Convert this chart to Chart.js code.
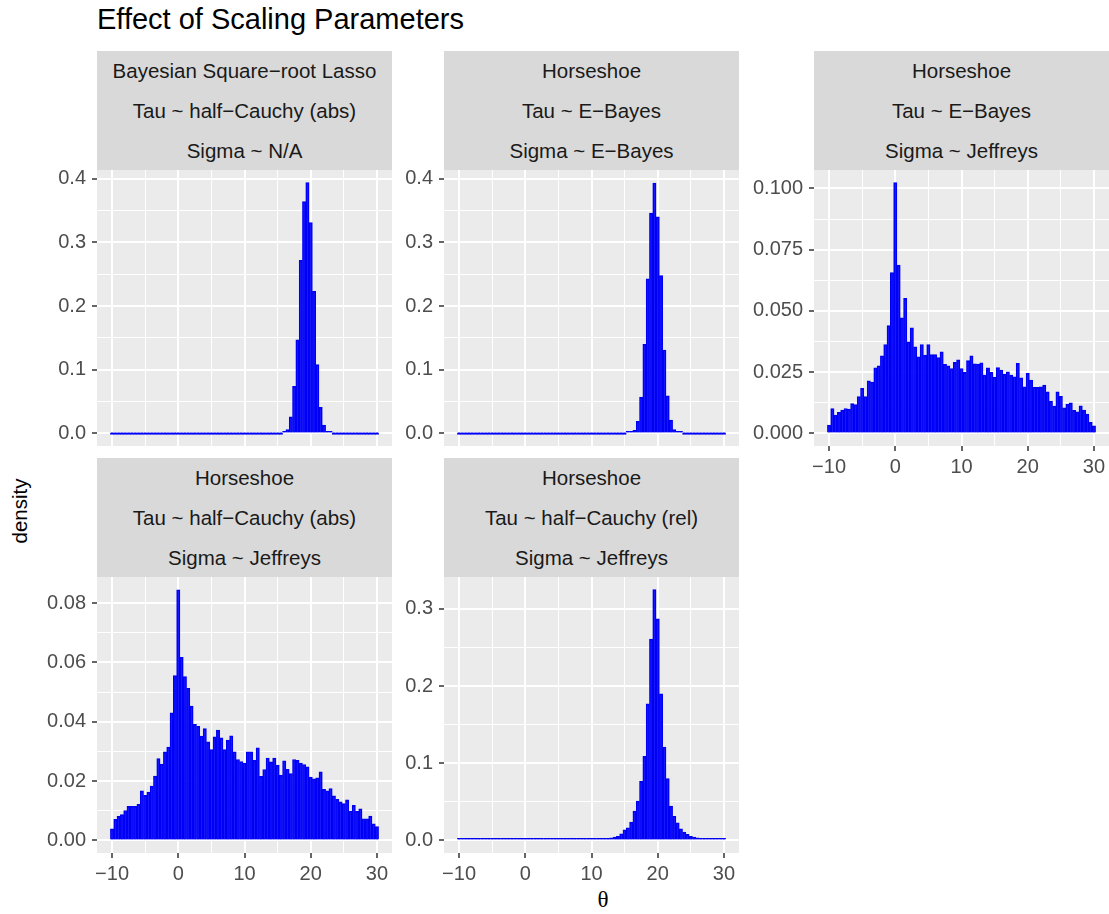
<!DOCTYPE html>
<html>
<head>
<meta charset="utf-8">
<title>Effect of Scaling Parameters</title>
<script src="https://cdn.jsdelivr.net/npm/chart.js@4/dist/chart.umd.min.js"></script>
<style>
  body { margin: 0; background: #fff; }
  #page { position: relative; width: 1109px; height: 914px; overflow: hidden;
          font-family: "Liberation Sans", Arial, sans-serif; }
  .panel { position: absolute; }
  .strip { position: absolute; background: #D9D9D9; color: #1A1A1A; font-size: 20.5px; text-align: center; }
  .strip div { height: 40px; line-height: 40px; white-space: nowrap; }
  #title { position: absolute; left: 97px; top: 5px; font-size: 29px; line-height: 29px; color: #000; white-space: nowrap; }
  #ylab { position: absolute; left: 20px; top: 511px; font-size: 20.5px; color: #000;
          transform: translate(-50%, -50%) rotate(-90deg); white-space: nowrap; }
  #xlab { position: absolute; left: 603px; top: 900px; font-size: 23px; color: #000;
          font-family: "Liberation Serif", "DejaVu Serif", serif; transform: translate(-50%, -50%); }
</style>
</head>
<body>
<div id="page">
  <div id="title">Effect of Scaling Parameters</div>
  <div id="ylab">density</div>
  <div id="xlab">θ</div>
</div>
<script>
'use strict';

// histogram bin centres (bin width 0.5)
const binCenters = [
  -10, -9.5, -9, -8.5, -8, -7.5, -7, -6.5, -6, -5.5,
  -5, -4.5, -4, -3.5, -3, -2.5, -2, -1.5, -1, -0.5,
  0, 0.5, 1, 1.5, 2, 2.5, 3, 3.5, 4, 4.5,
  5, 5.5, 6, 6.5, 7, 7.5, 8, 8.5, 9, 9.5,
  10, 10.5, 11, 11.5, 12, 12.5, 13, 13.5, 14, 14.5,
  15, 15.5, 16, 16.5, 17, 17.5, 18, 18.5, 19, 19.5,
  20, 20.5, 21, 21.5, 22, 22.5, 23, 23.5, 24, 24.5,
  25, 25.5, 26, 26.5, 27, 27.5, 28, 28.5, 29, 29.5,
  30
];

const xMajor = [-10, 0, 10, 20, 30];
const xMinor = [-5, 5, 15, 25];

const lassoDensity = [
  0, 0, 0, 0, 0, 0, 0, 0, 0, 0,
  0, 0, 0, 0, 0, 0, 0, 0, 0, 0,
  0, 0, 0, 0, 0, 0, 0, 0, 0, 0,
  0, 0, 0, 0, 0, 0, 0, 0, 0, 0,
  0, 0, 0, 0, 0, 0, 0, 0, 0, 0,
  0, 0, 0.002, 0.006, 0.026, 0.074, 0.147, 0.272, 0.364, 0.394,
  0.331, 0.223, 0.108, 0.041, 0.013, 0.003, 0.001, 0, 0, 0,
  0, 0, 0, 0, 0, 0, 0, 0, 0, 0,
  0
];

const hsEbEbDensity = [
  0, 0, 0, 0, 0, 0, 0, 0, 0, 0,
  0, 0, 0, 0, 0, 0, 0, 0, 0, 0,
  0, 0, 0, 0, 0, 0, 0, 0, 0, 0,
  0, 0, 0, 0, 0, 0, 0, 0, 0, 0,
  0, 0, 0, 0, 0, 0, 0, 0, 0, 0,
  0, 0.0005, 0.0015, 0.005, 0.019, 0.057, 0.140, 0.243, 0.346, 0.393,
  0.340, 0.248, 0.131, 0.059, 0.021, 0.006, 0.0015, 0.0005, 0, 0,
  0, 0, 0, 0, 0, 0, 0, 0, 0, 0,
  0
];

const hsEbJeffDensity = [
  0.0034, 0.0102, 0.0075, 0.0086, 0.0095, 0.0102, 0.0099, 0.0122, 0.0118, 0.0150,
  0.0184, 0.0150, 0.0215, 0.0210, 0.0268, 0.0276, 0.0317, 0.0363, 0.0440, 0.0657,
  0.1024, 0.0687, 0.0472, 0.0551, 0.0374, 0.0431, 0.0354, 0.0313, 0.0363, 0.0320,
  0.0363, 0.0322, 0.0322, 0.0310, 0.0333, 0.0282, 0.0276, 0.0265, 0.0290, 0.0300,
  0.0265, 0.0249, 0.0297, 0.0317, 0.0284, 0.0283, 0.0288, 0.0238, 0.0268, 0.0249,
  0.0230, 0.0269, 0.0259, 0.0241, 0.0252, 0.0238, 0.0231, 0.0286, 0.0227, 0.0190,
  0.0245, 0.0218, 0.0188, 0.0188, 0.0190, 0.0197, 0.0170, 0.0132, 0.0112, 0.0170,
  0.0152, 0.0105, 0.0120, 0.0125, 0.0094, 0.0088, 0.0113, 0.0095, 0.0079, 0.0045,
  0.0031
];

const hsHcAbsJeffDensity = [
  0.0039, 0.0071, 0.0081, 0.0087, 0.0101, 0.0115, 0.0115, 0.0115, 0.0122, 0.0167,
  0.0152, 0.0163, 0.0183, 0.0217, 0.0276, 0.0257, 0.0299, 0.0315, 0.0430, 0.0556,
  0.0845, 0.0617, 0.0552, 0.0513, 0.0453, 0.0391, 0.0385, 0.0352, 0.0377, 0.0332,
  0.0306, 0.0349, 0.0372, 0.0346, 0.0306, 0.0338, 0.0353, 0.0299, 0.0273, 0.0266,
  0.0261, 0.0299, 0.0299, 0.0270, 0.0312, 0.0216, 0.0239, 0.0278, 0.0265, 0.0278,
  0.0254, 0.0220, 0.0268, 0.0240, 0.0225, 0.0273, 0.0270, 0.0261, 0.0256, 0.0248,
  0.0214, 0.0208, 0.0211, 0.0231, 0.0172, 0.0167, 0.0175, 0.0150, 0.0139, 0.0130,
  0.0124, 0.0137, 0.0099, 0.0118, 0.0098, 0.0107, 0.0073, 0.0073, 0.0082, 0.0056,
  0.0047
];

const hsHcRelJeffDensity = [
  0.0007, 0.0008, 0.0007, 0.0008, 0.0008, 0.0007, 0.0008, 0.0009, 0.0008, 0.0008,
  0.0008, 0.0009, 0.0008, 0.0009, 0.0009, 0.0008, 0.0009, 0.0009, 0.0010, 0.0009,
  0.0010, 0.0009, 0.0010, 0.0010, 0.0010, 0.0011, 0.0010, 0.0011, 0.0011, 0.0012,
  0.0011, 0.0012, 0.0012, 0.0013, 0.0012, 0.0013, 0.0014, 0.0014, 0.0015, 0.0015,
  0.0016, 0.0018, 0.0020, 0.0022, 0.0026, 0.0028, 0.0035, 0.0043, 0.0055, 0.0087,
  0.0139, 0.0164, 0.0238, 0.0380, 0.0510, 0.0766, 0.1090, 0.1770, 0.2610, 0.3250,
  0.2870, 0.1900, 0.1210, 0.0800, 0.0446, 0.0312, 0.0229, 0.0152, 0.0108, 0.0078,
  0.0052, 0.0043, 0.0035, 0.0022, 0.0017, 0.0013, 0.0013, 0.0012, 0.0011, 0.0010,
  0.0010
];

const stripLabels = [
  ['Bayesian Square−root Lasso', 'Tau ~ half−Cauchy (abs)', 'Sigma ~ N/A'],
  ['Horseshoe', 'Tau ~ E−Bayes', 'Sigma ~ E−Bayes'],
  ['Horseshoe', 'Tau ~ E−Bayes', 'Sigma ~ Jeffreys'],
  ['Horseshoe', 'Tau ~ half−Cauchy (abs)', 'Sigma ~ Jeffreys'],
  ['Horseshoe', 'Tau ~ half−Cauchy (rel)', 'Sigma ~ Jeffreys']
];

// layout
const X_MIN = -12.275, X_MAX = 32.275;
const Y_AXIS_W = 64, TOP_PAD = 12, X_AXIS_H = 40, PLOT_H = 276, STRIP_H = 119;
const TEXT_FONT = '"Liberation Sans", Arial, sans-serif';

const panels = [
  { data: lassoDensity, strip: stripLabels[0], left: 97, top: 170, width: 295,
    yMajor: [0, 0.1, 0.2, 0.3, 0.4], yMinor: [0.05, 0.15, 0.25, 0.35], yMin: -0.0197, yMax: 0.4137, digits: 1, showX: false },
  { data: hsEbEbDensity, strip: stripLabels[1], left: 444, top: 170, width: 295,
    yMajor: [0, 0.1, 0.2, 0.3, 0.4], yMinor: [0.05, 0.15, 0.25, 0.35], yMin: -0.0197, yMax: 0.4137, digits: 1, showX: false },
  { data: hsEbJeffDensity, strip: stripLabels[2], left: 814, top: 170, width: 295,
    yMajor: [0, 0.025, 0.05, 0.075, 0.1], yMinor: [0.0125, 0.0375, 0.0625, 0.0875], yMin: -0.00512, yMax: 0.10752, digits: 3, showX: true },
  { data: hsHcAbsJeffDensity, strip: stripLabels[3], left: 97, top: 577, width: 295,
    yMajor: [0, 0.02, 0.04, 0.06, 0.08], yMinor: [0.01, 0.03, 0.05, 0.07], yMin: -0.00423, yMax: 0.0888, digits: 2, showX: true },
  { data: hsHcRelJeffDensity, strip: stripLabels[4], left: 444, top: 577, width: 295,
    yMajor: [0, 0.1, 0.2, 0.3], yMinor: [0.05, 0.15, 0.25], yMin: -0.01625, yMax: 0.34125, digits: 1, showX: true }
];

const page = document.getElementById('page');

// grey panel background
const panelBg = {
  id: 'panelBg',
  beforeDraw(chart) {
    const a = chart.chartArea;
    const c = chart.ctx;
    c.save();
    c.fillStyle = '#EBEBEB';
    c.fillRect(a.left, a.top, a.right - a.left, a.bottom - a.top);
    c.restore();
  }
};

function isIn(list, v) {
  return list.some(m => Math.abs(m - v) < 1e-9);
}

function fmtMinus(v, digits) {
  const s = Math.abs(v).toFixed(digits);
  return v < 0 ? '−' + s : s;
}

function makeStrip(p) {
  const strip = document.createElement('div');
  strip.className = 'strip';
  strip.style.left = p.left + 'px';
  strip.style.top = (p.top - STRIP_H) + 'px';
  strip.style.width = p.width + 'px';
  strip.style.height = STRIP_H + 'px';
  p.strip.forEach(function (line) {
    const d = document.createElement('div');
    d.textContent = line;
    strip.appendChild(d);
  });
  page.appendChild(strip);
}

function makePanel(p) {
  const w = Y_AXIS_W + p.width;
  const h = TOP_PAD + PLOT_H + (p.showX ? X_AXIS_H : 0);
  const wrap = document.createElement('div');
  wrap.className = 'panel';
  wrap.style.left = (p.left - Y_AXIS_W) + 'px';
  wrap.style.top = (p.top - TOP_PAD) + 'px';
  const canvas = document.createElement('canvas');
  canvas.width = w;
  canvas.height = h;
  canvas.style.width = w + 'px';
  canvas.style.height = h + 'px';
  wrap.appendChild(canvas);
  page.appendChild(wrap);

  const xTicks = xMajor.concat(xMinor).sort((a, b) => a - b);
  const yTicks = p.yMajor.concat(p.yMinor).sort((a, b) => a - b);

  new Chart(canvas, {
    type: 'bar',
    data: {
      datasets: [{
        data: binCenters.map((x, i) => ({ x: x, y: p.data[i] })),
        backgroundColor: 'rgba(0, 0, 255, 0.85)',
        borderColor: '#0000F0',
        borderWidth: 1,
        barPercentage: 1,
        categoryPercentage: 1,
        minBarLength: 2
      }]
    },
    plugins: [panelBg],
    options: {
      responsive: false,
      animation: false,
      events: [],
      layout: { padding: { top: TOP_PAD, left: 0, right: 0, bottom: 0 } },
      plugins: { legend: { display: false }, tooltip: { enabled: false } },
      scales: {
        x: {
          type: 'linear',
          min: X_MIN,
          max: X_MAX,
          offset: false,
          border: { display: false },
          grid: {
            offset: false,
            color: '#FFFFFF',
            lineWidth: c => (c.tick && isIn(xMajor, c.tick.value)) ? 2 : 1,
            drawTicks: p.showX,
            tickLength: 5,
            tickWidth: 1.5,
            tickColor: c => (c.tick && isIn(xMajor, c.tick.value)) ? '#333333' : 'rgba(0,0,0,0)'
          },
          ticks: {
            display: p.showX,
            padding: 4,
            maxRotation: 0,
            autoSkip: false,
            color: '#4D4D4D',
            font: { family: TEXT_FONT, size: 20 },
            callback: v => isIn(xMajor, v) ? fmtMinus(v, 0) : ''
          },
          afterBuildTicks: s => { s.ticks = xTicks.map(v => ({ value: v })); },
          afterFit: s => { s.height = p.showX ? X_AXIS_H : 0; s.paddingLeft = 0; s.paddingRight = 0; }
        },
        y: {
          type: 'linear',
          min: p.yMin,
          max: p.yMax,
          border: { display: false },
          grid: {
            color: '#FFFFFF',
            lineWidth: c => (c.tick && isIn(p.yMajor, c.tick.value)) ? 2 : 1,
            tickLength: 5,
            tickWidth: 1.5,
            tickColor: c => (c.tick && isIn(p.yMajor, c.tick.value)) ? '#333333' : 'rgba(0,0,0,0)'
          },
          ticks: {
            padding: 6,
            autoSkip: false,
            color: '#4D4D4D',
            font: { family: TEXT_FONT, size: 20 },
            callback: v => isIn(p.yMajor, v) ? fmtMinus(v, p.digits) : ''
          },
          afterBuildTicks: s => { s.ticks = yTicks.map(v => ({ value: v })); },
          afterFit: s => { s.width = Y_AXIS_W; s.paddingTop = 0; s.paddingBottom = 0; }
        }
      }
    }
  });
}

panels.forEach(function (p) {
  makeStrip(p);
  makePanel(p);
});
</script>
</body>
</html>
